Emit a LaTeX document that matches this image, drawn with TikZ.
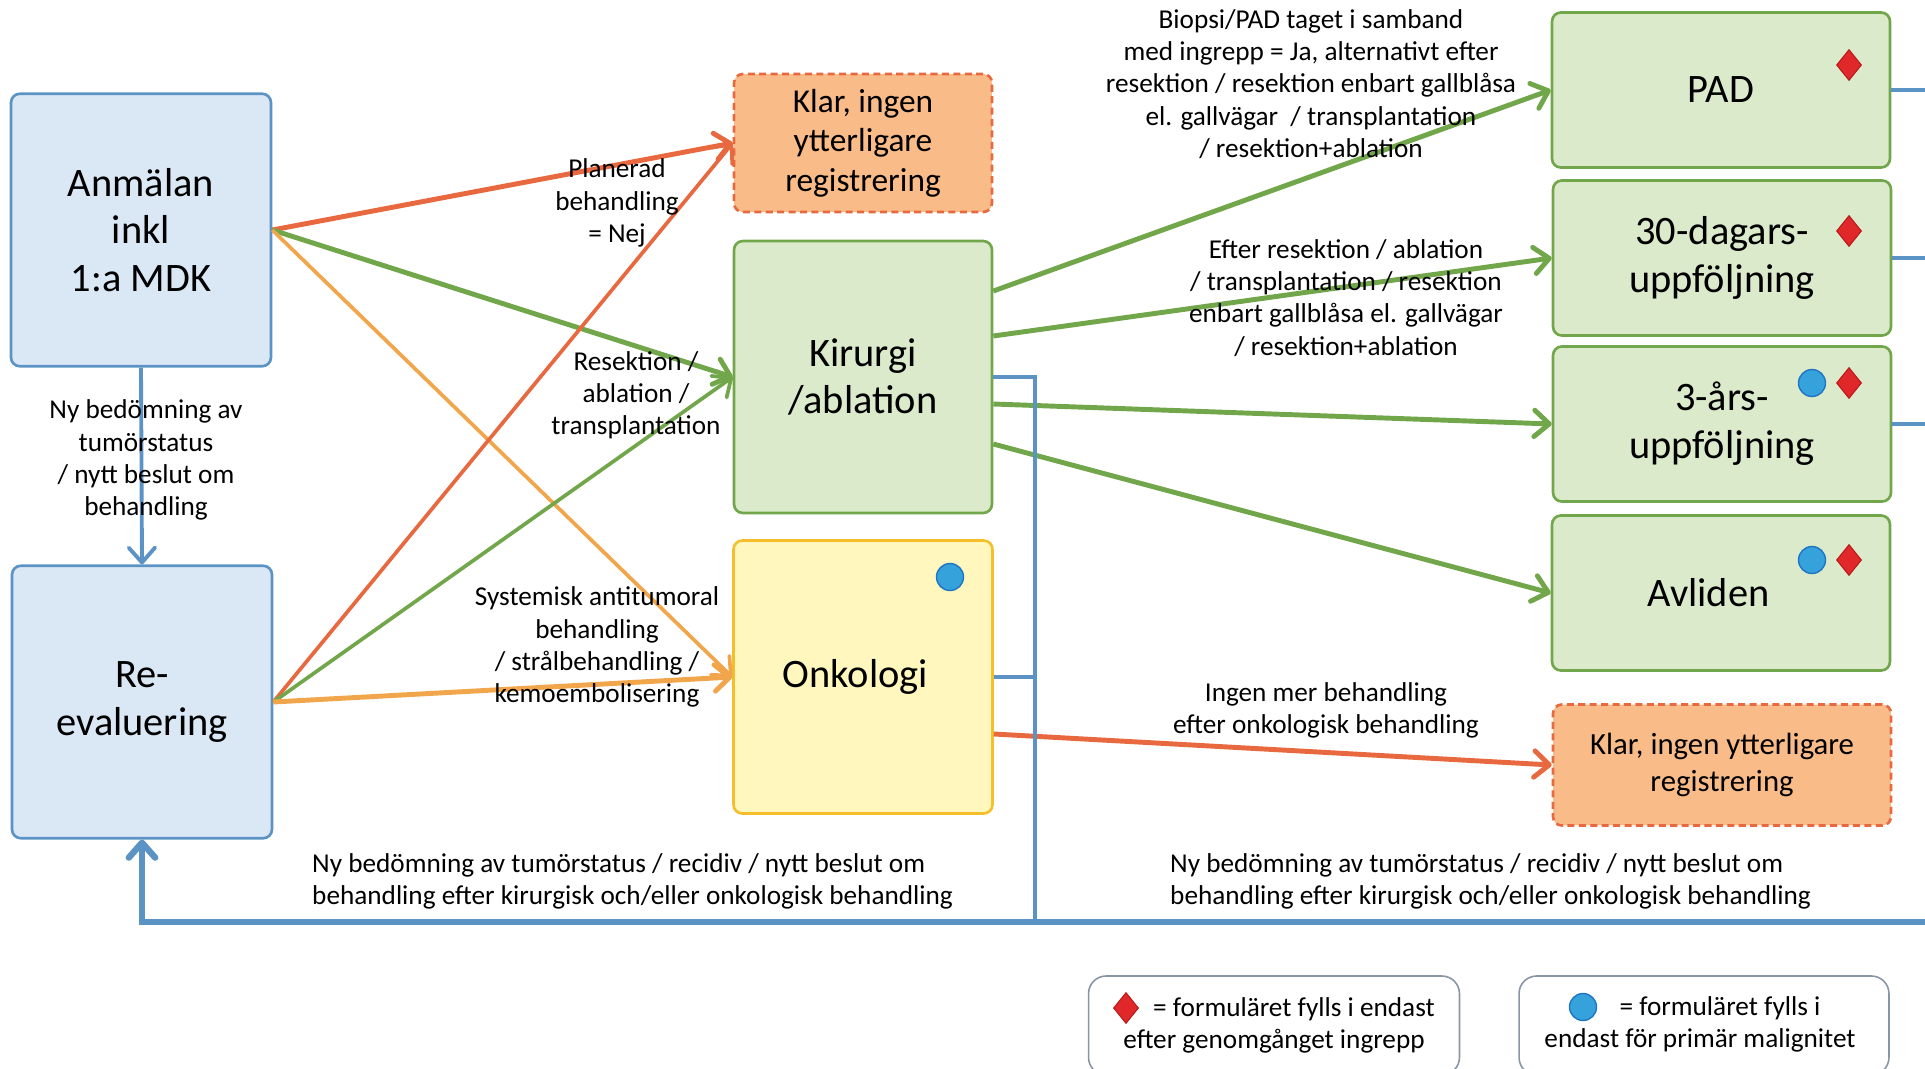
\documentclass[tikz,border=0pt]{standalone}
\usepackage{fontspec}
\setmainfont{Carlito}
\usetikzlibrary{arrows.meta, positioning, shapes.geometric}

\definecolor{blueline}{HTML}{5B93C5}
\definecolor{bluefill}{HTML}{DAE7F4}
\definecolor{greenline}{HTML}{72A64A}
\definecolor{greenfill}{HTML}{DCEACC}
\definecolor{redline}{HTML}{E8693F}
\definecolor{orangefill}{HTML}{F9BC88}
\definecolor{orangeline}{HTML}{F1A64C}
\definecolor{yellowline}{HTML}{F5BF2B}
\definecolor{yellowfill}{HTML}{FFF7BD}
\definecolor{diamred}{HTML}{E0282A}
\definecolor{diamedge}{HTML}{B8191B}
\definecolor{dotblue}{HTML}{35A2DB}
\definecolor{dotedge}{HTML}{1F75C4}
\definecolor{leggray}{HTML}{8795A4}

\begin{document}
\begin{tikzpicture}[x=0.02cm, y=-0.02cm,
    box/.style={rounded corners=5pt, line width=1.5pt, align=center, inner sep=0pt,
      font=\fontsize{23}{27.2}\selectfont},
    start/.style={box, draw=blueline, fill=bluefill, minimum width=5.2cm, minimum height=5.45cm},
    treat/.style={box, draw=greenline, fill=greenfill, minimum width=5.16cm, minimum height=5.44cm},
    onco/.style={box, draw=yellowline, fill=yellowfill, minimum width=5.18cm, minimum height=5.46cm},
    outcome/.style={box, draw=greenline, fill=greenfill, minimum width=6.76cm, minimum height=3.1cm},
    done/.style={box, dashed, dash pattern=on 4pt off 2.5pt, draw=redline, fill=orangefill},
    lab/.style={align=center, font=\fontsize{15.5}{18.3}\selectfont},
    legbox/.style={draw=leggray, line width=0.9pt, rounded corners=10pt, minimum height=1.98cm},
    diam/.style={diamond, draw=diamedge, fill=diamred, line width=0.6pt, minimum width=0.5cm,
      minimum height=0.62cm, inner sep=0pt},
    dot/.style={circle, draw=dotedge, fill=dotblue, line width=0.8pt, minimum size=0.54cm, inner sep=0pt},
    tip/.style={-{Straight Barb[length=8.5pt,width=15pt,round]}},
    fat/.style={line width=2.8pt},
    slim/.style={line width=2.1pt},
    bus/.style={draw=blueline, line width=2.2pt},
  ]
    \useasboundingbox (0,0) rectangle (1925,1069);

    % Boxes
    \node[start] (anm) at (141,230) {Anmälan\\inkl\\1:a MDK};
    \node[start] (reev) at (142,702) {Re-\\evaluering};
    \node[done, minimum width=5.16cm, minimum height=2.76cm, font=\fontsize{19}{22.5}\selectfont]
      (klar1) at (863,143) {Klar, ingen\\ytterligare\\registrering};
    \node[treat] (kir) at (863,377) {Kirurgi\\/ablation};
    \node[onco] (onk) at (863,677) {Onkologi\hspace*{0.3cm}};
    \node[outcome] (pad) at (1721,90) {PAD};
    \node[outcome] (dag30) at (1722,258) {30-dagars-\\uppföljning};
    \node[outcome] (ar3) at (1722,424) {3-års-\\uppföljning};
    \node[outcome] (avl) at (1721,593) {Avliden\hspace*{0.5cm}};
    \node[done, minimum width=6.76cm, minimum height=2.42cm, font=\fontsize{17.5}{21}\selectfont]
      (klar2) at (1722,765) {Klar, ingen ytterligare\\registrering};

    % Markers
    \node[diam] (padd) at (1849,65) {};
    \node[diam] (dag30d) at (1849,231) {};
    \node[dot] (ar3c) at (1812,383) {};
    \node[diam] (ar3d) at (1849,383) {};
    \node[dot] (avlc) at (1812,560) {};
    \node[diam] (avld) at (1849,560) {};
    \node[dot] (onkc) at (950,577) {};

    % From Anmälan and Re-evaluering
    \draw[redline, fat, tip] (anm.east) -- (klar1.west);
    \draw[greenline, fat, tip] (anm.east) -- (kir.west);
    \draw[orangeline, slim, tip] (anm.east) -- (onk.west);
    \draw[redline, slim, tip] (reev.east) -- (klar1.west);
    \draw[greenline, slim, tip] (reev.east) -- (kir.west);
    \draw[orangeline, fat, tip] (reev.east) -- (onk.west);

    % From Kirurgi and Onkologi
    \draw[greenline, fat, tip] ([yshift=1.72cm]kir.east) -- (pad.west);
    \draw[greenline, fat, tip] ([yshift=0.82cm]kir.east) -- (dag30.west);
    \draw[greenline, fat, tip] ([yshift=-0.54cm]kir.east) -- (ar3.west);
    \draw[greenline, fat, tip] ([yshift=-1.34cm]kir.east) -- (avl.west);
    \draw[redline, fat, tip] ([yshift=-1.14cm]onk.east) -- (klar2.west);

    % Feedback lines
    \coordinate (bus) at (1035,922);
    \coordinate (edge) at (1925,922);
    \draw[bus, tip] (anm.south) -- (reev.north);
    \draw[bus] (kir.east) -| (bus);
    \draw[bus] (onk.east) -- (onk.east -| bus);
    \draw[bus] (pad.east) -- (pad.east -| edge);
    \draw[bus] (dag30.east) -- (dag30.east -| edge);
    \draw[bus] (ar3.east) -- (ar3.east -| edge);
    \draw[bus, line width=3.6pt, tip] (edge) -| (reev.south);

    % Labels
    \node[lab] (lplan) at (617,203) {Planerad\\behandling\\= Nej};
    \node[lab] (lres) at (636,395) {Resektion /\\ablation /\\transplantation};
    \node[lab] (lsys) at (597,647) {Systemisk antitumoral\\behandling\\/ strålbehandling /\\kemoembolisering};
    \node[lab] (lny) at (146,460) {Ny bedömning av\\tumörstatus\\/ nytt beslut om\\behandling};
    \node[lab] (lbio) at (1311,84) {Biopsi/PAD taget i samband\\med ingrepp = Ja, alternativt efter\\resektion / resektion enbart gallblåsa\\el. gallvägar~~/ transplantation\\/ resektion+ablation};
    \node[lab] (lefter) at (1346,298) {Efter resektion / ablation\\/ transplantation / resektion\\enbart gallblåsa el. gallvägar\\/ resektion+ablation};
    \node[lab] (lingen) at (1326,710) {Ingen mer behandling\\efter onkologisk behandling};
    \node[lab, align=left, anchor=west] (lback1) at (306,881) {Ny bedömning av tumörstatus / recidiv / nytt beslut om\\behandling efter kirurgisk och/eller onkologisk behandling};
    \node[lab, align=left, anchor=west] (lback2) at (1164,881) {Ny bedömning av tumörstatus / recidiv / nytt beslut om\\behandling efter kirurgisk och/eller onkologisk behandling};

    % Legend
    \node[legbox, minimum width=7.42cm] (leg1) at (1274,1025.5) {};
    \node[legbox, minimum width=7.4cm] (leg2) at (1704,1025.5) {};
    \node[lab] (legt1) at (1274,1025) {\hspace*{0.8cm}= formuläret fylls i endast\\efter genomgånget ingrepp};
    \node[diam] (legd) at (1126,1008) {};
    \node[lab] (legt2) at (1700,1024) {\hspace*{0.8cm}= formuläret fylls i\\endast för primär malignitet};
    \node[dot] (legc) at (1583,1007) {};
\end{tikzpicture}
\end{document}
